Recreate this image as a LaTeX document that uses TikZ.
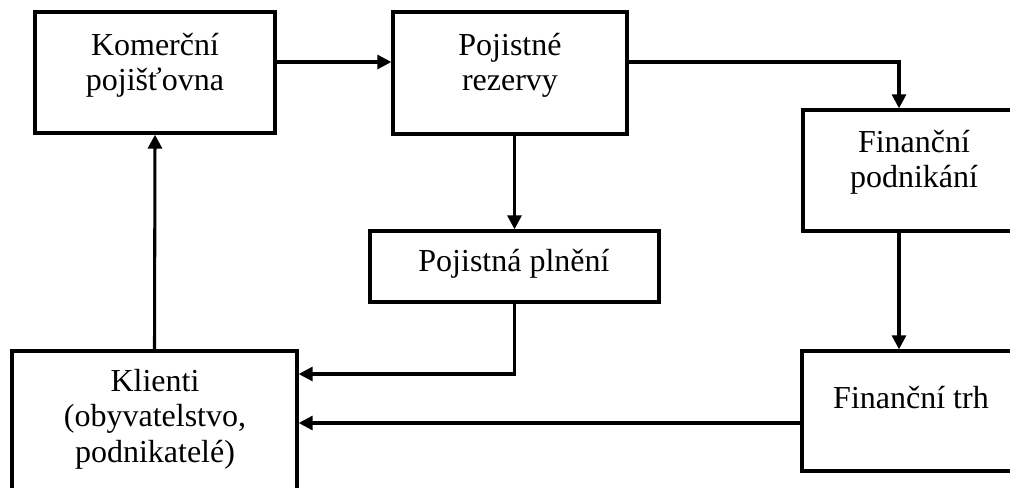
\documentclass[tikz,border=0pt]{standalone}
\usepackage{fontspec}
\setmainfont{Liberation Serif}
\usetikzlibrary{arrows.meta,fit}
\begin{document}
\begin{tikzpicture}[x=0.75pt,y=-0.75pt,
  box/.style={draw,line width=2.5pt,inner sep=0pt},
  lbl/.style={anchor=base,align=center,inner sep=0pt,
    font=\fontsize{24}{26.5}\selectfont},
  conn/.style={line width=2.3pt},
  arr/.style={conn,-{Triangle[length=10.5pt,width=10.5pt]}}]
\useasboundingbox (0,0) rectangle (1010,488);
\clip (0,0) rectangle (1010,488);
% boxes
\node[box,fit={(35,12)(275,133)}] (kom) {};
\node[box,fit={(393,12)(627,134)}] (pr) {};
\node[box,fit={(803,110)(1040,231)}] (fp) {};
\node[box,fit={(370,231)(659,302)}] (pp) {};
\node[box,fit={(12,351)(297,520)}] (kl) {};
\node[box,fit={(802,351)(1040,471)}] (ft) {};
% labels (anchored at the baseline of their last line)
\node[lbl] (komt) at (155,91) {Komerční\\pojišťovna};
\node[lbl] (prt) at (510,91) {Pojistné\\rezervy};
\node[lbl] (fpt) at (914,188) {Finanční\\podnikání};
\node[lbl] (ppt) at (514,272) {Pojistná plnění};
\node[lbl] (klt) at (155,462) {Klienti\\(obyvatelstvo,\\podnikatelé)};
\node[lbl] (ftt) at (911,408) {Finanční trh};
% helper rows and column
\coordinate (rowA) at (0,62);
\coordinate (rowB) at (0,374);
\coordinate (rowC) at (0,423);
\coordinate (colF) at (899,0);
% connectors
\draw[arr] (kom.east |- rowA) -- (pr.west |- rowA);
\draw[arr] (pr.east |- rowA) -| (colF |- fp.north);
\draw[arr] (pp.north |- pr.south) -- (pp.north);
\draw[arr] (pp.south) |- (kl.east |- rowB);
\draw[arr] (colF |- fp.south) -- (colF |- ft.north);
\draw[arr] (ft.west |- rowC) -- (kl.east |- rowC);
\draw[arr] (kl.north) -- (kom.south);
\end{tikzpicture}
\end{document}
